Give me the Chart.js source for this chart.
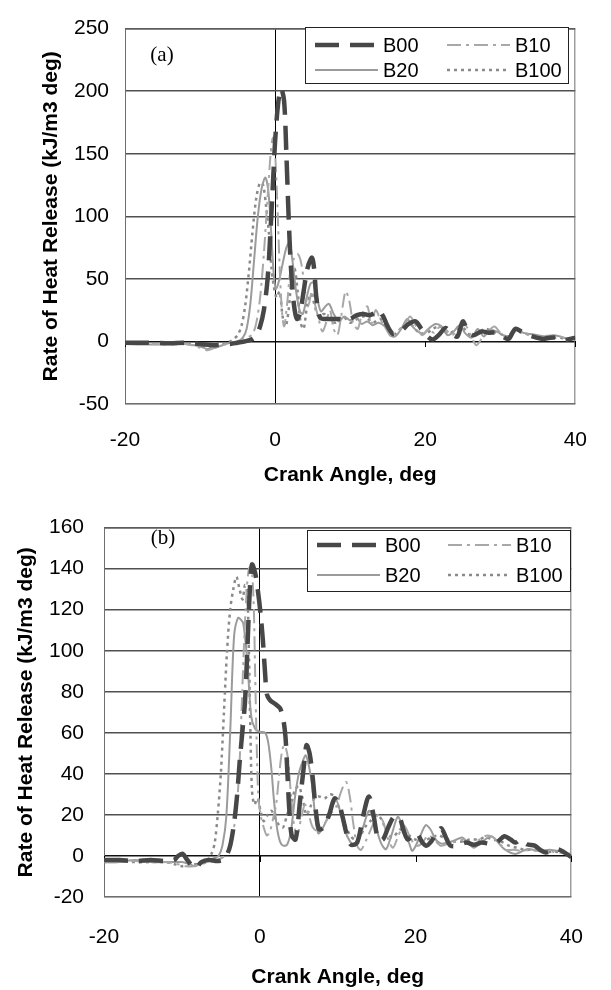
<!DOCTYPE html>
<html>
<head>
<meta charset="utf-8">
<script src="https://cdn.jsdelivr.net/npm/chart.js@4.4.1/dist/chart.umd.min.js"></script>
<style>
  html, body { margin: 0; padding: 0; background: #fff; }
  .panel { position: relative; width: 611px; height: 495px; }
  canvas { display: block; }
</style>
</head>
<body>
<div class="panel"><canvas id="chartA" width="611" height="495"></canvas></div>
<div class="panel"><canvas id="chartB" width="611" height="495"></canvas></div>
<script>
// tick labels
const crankTicks = [-20, 0, 20, 40];
const hrrTicksA = [-50, 0, 50, 100, 150, 200, 250];
const hrrTicksB = [-20, 0, 20, 40, 60, 80, 100, 120, 140, 160];
const seriesNames = ['B00', 'B10', 'B20', 'B100'];

// panel (a): [crank angle, rate of heat release]
const hrrA_B00 = [[-20,-1],[-17,-1],[-14,-1.5],[-12,-1],[-10,-2],[-8,-3],[-6,-2],[-5,-1],[-4,0],[-3,2],[-2.5,5],[-2,12],[-1.5,25],[-1,50],[-0.6,90],[-0.3,125],[0,160],[0.4,190],[0.8,202],[1.2,192],[1.5,150],[1.8,100],[2.1,60],[2.5,30],[2.9,18],[3.3,22],[3.8,40],[4.3,58],[4.9,67],[5.2,58],[5.5,35],[6,19],[7,18],[8,18],[9,18],[10,18],[10.9,21],[11.8,22],[12.6,21],[13.3,23],[13.8,25],[14.4,20],[15,12],[15.7,6],[16.3,7],[16.9,9],[17.8,14],[18.7,16],[19.5,10],[20.3,4],[21,1.5],[21.8,5],[22.7,10.8],[23.5,6],[24.3,4],[25,16],[25.7,8],[26.4,5],[27.5,8],[28.5,7],[29.5,7],[30.3,4],[31.1,2],[32,10],[32.8,8],[33.8,5],[34.8,3],[35.7,2],[36.6,3],[37.5,3],[38.5,1],[39.3,2],[40,3]];
const hrrA_B10 = [[-20,-2],[-17,-2],[-14,-2.5],[-12,-2],[-10,-5],[-9,-7],[-8,-5],[-7,-3],[-6,-1],[-5,0],[-4,2],[-3,6],[-2.5,15],[-2,35],[-1.5,70],[-1,115],[-0.6,150],[-0.3,163],[0,150],[0.3,110],[0.6,60],[0.9,25],[1.2,12],[1.6,30],[2,55],[2.5,66],[3,70],[3.5,62],[4,40],[4.4,28],[4.9,40],[5.3,30],[5.8,18],[6.3,8],[6.8,15],[7.3,25],[7.8,10],[8.3,5],[8.8,20],[9.4,40],[9.9,32],[10.4,15],[11,10],[11.6,22],[12.3,28],[12.8,14],[13.4,25],[14,18],[14.8,10],[15.5,5],[16.3,8],[17.2,13],[18,20],[18.8,12],[19.6,5],[20.4,10],[21.2,7],[22,12],[22.8,9],[23.6,5],[24.4,10],[25.2,14],[26,6],[26.8,-3],[27.6,3],[28.4,8],[29.2,12],[30,7],[30.8,3],[31.6,8],[32.4,9],[33.4,6],[34.5,4],[35.5,3],[36.5,5],[37.5,4],[38.5,3],[39.3,2],[40,5]];
const hrrA_B20 = [[-20,-2],[-17,-2.5],[-14,-2],[-12,-2],[-10,-4],[-9,-6],[-8,-5],[-7,-3],[-6,-1],[-5,0],[-4.3,3],[-3.8,10],[-3.3,30],[-2.8,65],[-2.3,100],[-1.8,122],[-1.3,131],[-0.9,120],[-0.5,85],[-0.2,55],[0.1,42],[0.5,48],[1,62],[1.5,75],[1.9,79],[2.3,65],[2.8,40],[3.3,24],[3.7,22],[4.2,35],[4.7,46],[5.1,47],[5.6,35],[6.1,24],[6.7,28],[7.2,30],[7.8,22],[8.5,16],[9.2,20],[10,17],[10.8,20],[11.5,14],[12.3,16],[13,13],[13.8,15],[14.6,12],[15.3,5],[16,4],[16.8,10],[17.6,18],[18.3,12],[19,8],[19.8,6],[20.6,11],[21.4,14],[22.2,12],[23,5],[23.8,8],[24.6,13],[25.4,6],[26.2,3],[27,10],[27.8,4],[28.6,9],[29.5,8],[30.4,5],[31.2,4],[32.1,11],[33,7],[34,6],[35,5],[36,4],[37,5],[38,4],[39,2],[40,4]];
const hrrA_B100 = [[-20,-2],[-17,-1.5],[-14,-2],[-12,-2],[-10,-3],[-9,-4],[-8,-4],[-7,-2],[-6,0],[-5.5,2],[-5,5],[-4.5,12],[-4,28],[-3.5,55],[-3,88],[-2.5,115],[-2,127],[-1.6,125],[-1.2,108],[-0.8,85],[-0.5,60],[-0.2,45],[0.2,35],[0.6,40],[1,20],[1.4,12],[1.8,25],[2.2,50],[2.6,58],[3,40],[3.4,15],[3.8,10],[4.3,30],[4.8,38],[5.3,28],[5.8,20],[6.5,22],[7.2,18],[8,15],[9,20],[10,15],[11,18],[12,20],[13,15],[14,18],[15,10],[16,6],[17,12],[18,14],[19,8],[20,6],[21,10],[22,12],[23,6],[24,9],[25,11],[26,5],[27,7],[28,10],[29,8],[30,6],[31,4],[32,8],[33,7],[34,5],[35,4],[36,4],[37,3],[38,3],[39,2],[40,3]];

// panel (b)
const hrrB_B00 = [[-20,-2],[-18,-2],[-16,-2.5],[-14,-2],[-12,-2.5],[-11,-2],[-10.5,0],[-9.9,1],[-9.3,-2],[-8.3,-6],[-7.5,-3],[-6.5,-2],[-5.5,-2.5],[-4.8,-2],[-4.3,0],[-3.8,5],[-3.3,16],[-2.9,30],[-2.6,45],[-2.2,62],[-1.9,75],[-1.6,100],[-1.3,128],[-1,142],[-0.6,138],[-0.2,128],[0.1,118],[0.4,105],[0.7,88],[0.9,79],[1.3,76],[2,74],[2.6,72],[3,67],[3.3,58],[3.5,44],[3.8,22],[4.1,10],[4.6,8],[5.2,28],[5.7,45],[6,54],[6.4,50],[6.8,38],[7.2,22],[7.6,13],[8.2,14],[8.9,20],[9.6,28],[10.2,25],[10.7,18],[11.2,10],[11.7,5.5],[12.5,6.5],[13.3,20],[14,29],[14.6,20],[15.2,8],[15.8,8],[16.5,14],[17.2,19],[17.9,19],[18.5,12],[19,8],[19.6,10],[20.2,11],[20.8,7],[21.4,5],[22,7],[22.7,11],[23.3,13.5],[23.9,9],[24.5,5],[25.5,5],[26.5,6.5],[27.5,5.5],[28.5,6.5],[29.5,6],[30.4,6.5],[31.4,9.6],[32.2,8],[32.8,6.5],[33.5,8],[34.3,5.7],[35.3,5],[36,3],[36.7,1.7],[37.5,2.5],[38.2,3.3],[39,2],[40,-0.6]];
const hrrB_B10 = [[-20,-3],[-18,-3],[-16,-2.5],[-14,-3],[-12,-3],[-10.5,-4],[-9.5,-5],[-8.5,-5],[-7.5,-4],[-6.5,-3],[-5.5,-2],[-4.5,0],[-4,3],[-3.5,10],[-3,22],[-2.6,45],[-2.3,75],[-2,105],[-1.7,128],[-1.4,140],[-1.1,141],[-0.8,125],[-0.6,90],[-0.4,55],[-0.2,30],[0.1,20],[0.5,14],[0.9,10],[1.3,12],[1.7,18],[2.1,25],[2.5,40],[2.9,52],[3.2,54],[3.6,48],[4,30],[4.4,15],[4.8,10],[5.3,18],[5.8,25],[6.3,20],[6.8,14],[7.5,12],[8.2,15],[9,20],[9.8,24],[10.5,32],[11.1,36],[11.6,28],[12,16],[12.5,5],[13,3],[13.7,8],[14.5,15],[15.2,20],[15.8,17],[16.5,8],[17.1,4],[17.8,10],[18.5,15],[19.2,10],[20,5],[20.8,6],[21.6,10],[22.4,8],[23.2,5],[24.2,6],[25.2,7],[26.2,8],[27.2,6],[28.2,8],[29.2,10],[30,9],[30.8,6],[31.6,3],[32.6,3],[33.6,2.5],[34.6,3],[35.6,2.5],[36.6,2],[37.6,2],[38.6,1.5],[39.5,1],[40,1]];
const hrrB_B20 = [[-20,-3],[-18,-3],[-16,-2],[-14,-3],[-12,-3],[-10,-3],[-9,-4],[-8.3,-5],[-7.5,-3],[-6.5,-2],[-5.8,-1],[-5.3,0],[-4.8,5],[-4.3,19],[-3.8,60],[-3.3,107],[-2.8,116],[-2.4,115],[-2.1,113],[-1.6,95],[-1.1,68],[-0.6,62],[0,60.5],[0.7,60],[1.1,55],[1.5,42],[1.8,28],[2.2,14],[2.6,7],[3,5],[3.5,5.5],[4,12],[4.5,28],[5,40],[5.5,46],[5.9,49],[6.3,44],[6.7,35],[7.1,20],[7.5,11],[8,13],[8.4,16],[9.1,22],[9.8,27],[10.3,22],[10.9,12.8],[11.6,7],[12.3,5],[13.1,12],[14,22],[14.5,19],[15,12.8],[15.6,6],[16.2,3.3],[16.9,10],[17.7,19],[18.2,16],[18.7,11],[19.2,6],[19.6,2.5],[20.4,8],[21.3,15],[21.9,13],[22.6,8],[23.3,6],[24.1,6.5],[25,7.5],[26,9],[26.8,6],[27.5,4],[28.6,7],[29.7,9.6],[30.5,7],[31.4,3.3],[32.8,1],[34.3,3.3],[35.2,3],[36.2,2.5],[37.2,3],[38.2,2.5],[39.2,2],[40,0]];
const hrrB_B100 = [[-20,-3],[-18,-2.5],[-16,-3],[-14,-3],[-12,-3],[-11,-4],[-10,-5],[-9,-4],[-8,-4],[-7,-3],[-6.5,-1],[-6.2,1],[-5.8,6],[-5.4,20],[-5,40],[-4.6,70],[-4.2,100],[-3.8,120],[-3.4,130],[-3,136],[-2.6,130],[-2.2,125],[-1.9,132],[-1.6,128],[-1.4,100],[-1.2,60],[-1,32],[-0.7,25],[-0.3,28],[0.1,22],[0.5,17],[1,20],[1.5,22],[2,18],[2.5,15],[3,14],[3.5,20],[4,25],[4.5,32],[5,34],[5.5,28],[6,20],[6.5,24],[7,28],[7.6,29],[8.3,28],[9,30],[9.6,29],[10.3,22],[11,15],[11.6,10],[12.2,8],[12.8,9],[13.5,14],[14.2,17],[15,20],[15.6,18],[16.3,12],[17,9],[17.8,12],[18.5,14],[19.2,10],[20,8],[21,7],[22,9],[23,10],[24,8],[25,7],[26,7],[27,8],[28,8],[29,9],[30,8],[31,7],[32,5],[33,4],[34,3],[35,3],[36,2.5],[37,2],[38,2],[39,1.5],[40,1]];

const SANS = "'Liberation Sans', Arial, sans-serif";

const lineStyles = {
    B00:  { borderColor: '#474747', borderWidth: 4.5, borderDash: [24, 11] },
    B10:  { borderColor: '#a8a8a8', borderWidth: 2,   borderDash: [14, 5, 3, 5] },
    B20:  { borderColor: '#9b9b9b', borderWidth: 2,   borderDash: [] },
    B100: { borderColor: '#8a8a8a', borderWidth: 2.5, borderDash: [3, 4] }
};

const toPoints = pairs => pairs.map(p => ({ x: p[0], y: p[1] }));

// frame, zero-line tick marks, legend box and panel tag
const panelDecor = {
    id: 'panelDecor',
    beforeDatasetsDraw(chart) {
        const { ctx, chartArea: a, scales: { x, y } } = chart;
        ctx.save();
        ctx.strokeStyle = '#6f6f6f';
        ctx.lineWidth = 1;
        ctx.strokeRect(a.left + 0.5, a.top + 0.5, a.right - a.left - 1, a.bottom - a.top - 1);
        const y0 = Math.round(y.getPixelForValue(0));
        ctx.strokeStyle = '#000';
        crankTicks.forEach(v => {
            const px = Math.round(x.getPixelForValue(v)) + 0.5;
            ctx.beginPath();
            ctx.moveTo(px, y0);
            ctx.lineTo(px, y0 + 6);
            ctx.stroke();
        });
        ctx.restore();
    },
    afterDatasetsDraw(chart, args, opts) {
        const { ctx } = chart;
        const L = opts.legend;
        ctx.save();
        ctx.fillStyle = '#fff';
        ctx.fillRect(L.left, L.top, L.width, L.height);
        ctx.strokeStyle = '#222';
        ctx.lineWidth = 1;
        ctx.strokeRect(L.left + 0.5, L.top + 0.5, L.width, L.height);

        const slots = { B00: [0, 0], B10: [1, 0], B20: [0, 1], B100: [1, 1] };
        chart.data.datasets.forEach(ds => {
            const [col, row] = slots[ds.label];
            const yy = L.top + L.rows[row];
            const x0 = L.cols[col];
            ctx.strokeStyle = ds.borderColor;
            ctx.lineWidth = ds.borderWidth;
            ctx.setLineDash(ds.borderDash);
            ctx.beginPath();
            ctx.moveTo(x0, yy);
            ctx.lineTo(x0 + L.sample, yy);
            ctx.stroke();
            ctx.setLineDash([]);
            ctx.fillStyle = '#000';
            ctx.font = '20px ' + SANS;
            ctx.textAlign = 'left';
            ctx.textBaseline = 'middle';
            ctx.fillText(ds.label, x0 + L.sample + 5, yy + 1);
        });

        ctx.font = "21px 'Liberation Serif', 'Times New Roman', serif";
        ctx.textAlign = 'center';
        ctx.textBaseline = 'middle';
        ctx.fillStyle = '#000';
        ctx.fillText(opts.tag.text, opts.tag.x, opts.tag.y);
        ctx.restore();
    }
};

function buildPanel(canvasId, series, yTicks, geo) {
    const ctx = document.getElementById(canvasId).getContext('2d');
    return new Chart(ctx, {
        type: 'line',
        data: {
            datasets: seriesNames.map((name, i) => ({
                label: name,
                data: toPoints(series[i]),
                ...lineStyles[name],
                fill: false,
                pointRadius: 0,
                tension: 0.3
            }))
        },
        options: {
            responsive: false,
            animation: false,
            devicePixelRatio: 1,
            layout: { padding: { top: geo.top, right: geo.right, left: 0, bottom: 0 } },
            plugins: {
                legend: { display: false },
                tooltip: { enabled: false },
                panelDecor: { legend: geo.legend, tag: geo.tag }
            },
            scales: {
                x: {
                    type: 'linear',
                    min: crankTicks[0],
                    max: crankTicks[crankTicks.length - 1],
                    afterBuildTicks: s => { s.ticks = crankTicks.map(v => ({ value: v })); },
                    afterFit: s => { s.height = geo.xHeight; },
                    border: { display: false },
                    grid: {
                        drawTicks: false,
                        color: c => (c.tick && c.tick.value === 0 ? '#000' : 'rgba(0,0,0,0)'),
                        lineWidth: 1
                    },
                    ticks: { color: '#000', font: { family: SANS, size: 21 }, padding: geo.xTickPad, maxRotation: 0 },
                    title: {
                        display: true,
                        text: 'Crank Angle, deg',
                        color: '#000',
                        font: { family: SANS, size: 21, weight: 'bold' },
                        padding: { top: 0, bottom: geo.xTitlePad }
                    }
                },
                y: {
                    min: yTicks[0],
                    max: yTicks[yTicks.length - 1],
                    afterBuildTicks: s => { s.ticks = yTicks.map(v => ({ value: v })); },
                    afterFit: s => { s.width = geo.yWidth; },
                    border: { display: false },
                    grid: {
                        drawTicks: false,
                        color: c => (c.tick && c.tick.value === 0 ? '#111' : '#505050'),
                        lineWidth: 1.5
                    },
                    ticks: { color: '#000', font: { family: SANS, size: 21 }, padding: geo.yTickPad },
                    title: {
                        display: true,
                        text: 'Rate of Heat Release (kJ/m3 deg)',
                        color: '#000',
                        font: { family: SANS, size: 21, weight: 'bold' },
                        padding: { top: geo.yTitlePad, bottom: 0 }
                    }
                }
            }
        },
        plugins: [panelDecor]
    });
}

buildPanel('chartA', [hrrA_B00, hrrA_B10, hrrA_B20, hrrA_B100], hrrTicksA, {
    top: 20, right: 24, xHeight: 91, yWidth: 125,
    xTickPad: 24, xTitlePad: 7, yTickPad: 16, yTitlePad: 39,
    legend: { left: 305, top: 27, width: 263, height: 56, rows: [18, 43], cols: [315, 447], sample: 63 },
    tag: { text: '(a)', x: 162, y: 55 }
});

buildPanel('chartB', [hrrB_B00, hrrB_B10, hrrB_B20, hrrB_B100], hrrTicksB, {
    top: 22, right: 28, xHeight: 93, yWidth: 104,
    xTickPad: 28, xTitlePad: 0, yTickPad: 20, yTitlePad: 14,
    legend: { left: 307, top: 35, width: 263, height: 61, rows: [15, 45], cols: [317, 448], sample: 63 },
    tag: { text: '(b)', x: 163, y: 43 }
});
</script>
</body>
</html>
